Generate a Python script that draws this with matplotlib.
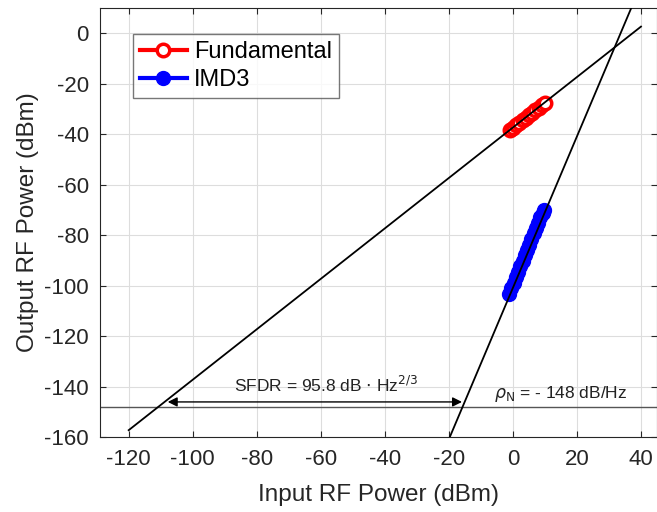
import numpy as np
import matplotlib.pyplot as plt

plt.rcParams['font.family'] = ['Liberation Sans', 'DejaVu Sans']
plt.rcParams['axes.unicode_minus'] = False

# measured points
p_in_fund = [-1.0, 0.0, 1.0, 2.0, 3.0, 4.0, 5.0, 6.0, 7.0, 8.0, 9.0, 10.0]
p_out_fund = [-38.4, -37.5, -36.4, -35.5, -34.3, -33.4, -32.4, -31.4, -30.3, -29.4, -28.5, -27.6]
p_in_imd = [-1.2, -0.5, 0.2, 0.9, 1.6, 2.3, 3.0, 3.7, 4.4, 5.1, 5.8, 6.5, 7.2, 7.9, 8.6, 9.3, 9.7]
p_out_imd = [-103.2, -101.0, -99.0, -96.6, -94.5, -92.4, -90.3, -88.0, -85.9, -83.7, -81.5, -79.2, -77.1, -75.0, -72.8, -71.0, -70.1]

# fitted lines (endpoints) and noise floor
fit_fund_x = [-120, 40]
fit_fund_y = [-157.3, 2.7]
fit_imd_x = [-19.7, 36.9]
fit_imd_y = [-160.0, 9.9]
noise_floor = -148
sfdr_x = [-107.8, -15.9]
sfdr_y = -146.1

fig = plt.figure(figsize=(6.57, 5.12), dpi=100)
ax = fig.add_axes([0.152, 0.1465, 0.848, 0.8375])

ax.axhline(noise_floor, color='#555555', lw=1.0, zorder=2)

ax.plot(p_in_fund, p_out_fund, '-o', color='red', lw=3, ms=9,
        mfc='white', mec='red', mew=2.5, label='Fundamental', zorder=3)
ax.plot(p_in_imd, p_out_imd, '-o', color='blue', lw=3, ms=10,
        mfc='blue', mec='blue', label='IMD3', zorder=3)
# fit lines drawn over the markers
ax.plot(fit_fund_x, fit_fund_y, color='black', lw=1.3, zorder=4)
ax.plot(fit_imd_x, fit_imd_y, color='black', lw=1.3, zorder=4)

ax.annotate('', xy=(sfdr_x[0], sfdr_y), xytext=(sfdr_x[1], sfdr_y),
            arrowprops=dict(arrowstyle='<|-|>', color='black', lw=1.0,
                            mutation_scale=14, shrinkA=0, shrinkB=0))
ax.text(-58.5, -139.5, r'SFDR = 95.8 dB $\cdot$ Hz$^{2/3}$', ha='center', va='center',
        fontsize=12.5, color='#222222')
ax.text(15, -143, r'$\rho_{\mathrm{N}}$ = - 148 dB/Hz', ha='center', va='center',
        fontsize=12.5, color='#222222')

ax.set_xlim(-129, 45)
ax.set_ylim(-160, 10)
ax.set_xticks(np.arange(-120, 41, 20))
ax.set_yticks(np.arange(-160, 1, 20))
ax.grid(True, color='#dddddd', lw=0.8)
ax.set_axisbelow(True)
ax.tick_params(direction='in', top=True, right=True, labelsize=16, colors='#262626',
               length=4)
ax.tick_params(axis='x', pad=9)
ax.tick_params(axis='y', pad=8)
for s in ax.spines.values():
    s.set_color('#262626')
ax.set_xlabel('Input RF Power (dBm)', fontsize=17.5, color='#262626', labelpad=10)
ax.set_ylabel('Output RF Power (dBm)', fontsize=17.5, color='#262626', labelpad=4)

leg = ax.legend(loc='upper left', bbox_to_anchor=(0.059, 0.939), fontsize=17,
                frameon=True, fancybox=False, edgecolor='#555555', handlelength=2.0,
                handletextpad=0.3, borderpad=0.3, labelspacing=0.25, borderaxespad=0)
leg.get_frame().set_linewidth(1.0)

fig.savefig('out.png', dpi=100)
